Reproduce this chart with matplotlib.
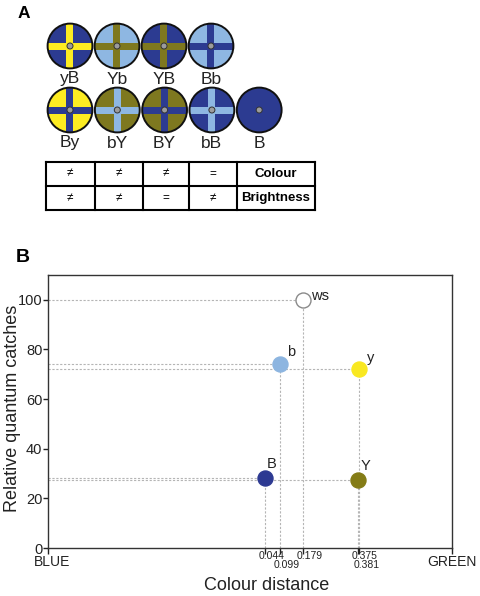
import numpy as np
import matplotlib.pyplot as plt
from matplotlib.patches import Circle, Rectangle

plt.rcParams['font.family'] = ['Liberation Sans', 'DejaVu Sans']

# panel A stimuli: first letter = cross colour, second = background colour
row1 = ['yB', 'Yb', 'YB', 'Bb']
row2 = ['By', 'bY', 'BY', 'bB', 'B']
palette = {'y': '#fdec22', 'Y': '#7e781f', 'b': '#8eb7e2', 'B': '#2c3b91'}

colour_row = ['≠', '≠', '≠', '=', 'Colour']
bright_row = ['≠', '≠', '=', '≠', 'Brightness']

# panel B
names = ['ws', 'b', 'y', 'B', 'Y']
dist = [0.179, 0.099, 0.381, 0.044, 0.375]
catch = [100, 74, 72.2, 28.2, 27.4]
fills = ['white', '#8db5e0', '#f9e821', '#2d3a92', '#847c16']
tick_vals = [0.044, 0.099, 0.179, 0.375, 0.381]
tick_level = [0, 1, 0, 0, 1]
y_ticks = [0, 20, 40, 60, 80, 100]

W, H = 481, 596
fig = plt.figure(figsize=(W / 100, H / 100), dpi=100)

# overlay in pixel coordinates for panel A
pa = fig.add_axes([0, 0, 1, 1])
pa.set_xlim(0, W)
pa.set_ylim(H, 0)
pa.axis('off')

pa.text(24, 13, 'A', fontsize=12.5, fontweight='bold', ha='center', va='center')
pa.text(23, 257, 'B', fontsize=14, fontweight='bold', ha='center', va='center')

r = 22.4
arm = 7
def stimulus(cx, cy, code):
    cross = palette[code[0]]
    bg = palette[code[-1]]
    base = Circle((cx, cy), r, facecolor=bg, edgecolor='none')
    pa.add_patch(base)
    if len(code) == 2:
        for rect in (Rectangle((cx - arm / 2, cy - r), arm, 2 * r),
                     Rectangle((cx - r, cy - arm / 2), 2 * r, arm)):
            rect.set_facecolor(cross)
            rect.set_edgecolor('none')
            pa.add_patch(rect)
            rect.set_clip_path(base)
    pa.add_patch(Circle((cx, cy), r, facecolor='none', edgecolor='#111111', lw=1.4))
    pa.add_patch(Circle((cx, cy), 3, facecolor='#9c9c9c', edgecolor='#333333', lw=0.7))

for i, code in enumerate(row1):
    cx = 70 + 47 * i
    stimulus(cx, 46, code)
    pa.text(cx, 79, code, fontsize=12.5, ha='center', va='center', color='#222222')
for i, code in enumerate(row2):
    cx = 70 + 47.3 * i
    stimulus(cx, 110, code)
    pa.text(cx, 143, code, fontsize=12.5, ha='center', va='center', color='#222222')

# comparison table
cols = [46, 94.7, 142.7, 189.3, 236.7, 315]
rows = [161.7, 185.7, 210]
for xv in cols:
    pa.plot([xv, xv], [rows[0], rows[-1]], color='black', lw=1.5, solid_capstyle='projecting')
for yv in rows:
    pa.plot([cols[0], cols[-1]], [yv, yv], color='black', lw=1.5, solid_capstyle='projecting')
for ri, row in enumerate([colour_row, bright_row]):
    yc = (rows[ri] + rows[ri + 1]) / 2
    for ci, val in enumerate(row):
        xc = (cols[ci] + cols[ci + 1]) / 2
        if ci == 4:
            pa.text(xc, yc, val, fontsize=9.5, fontweight='bold', ha='center', va='center')
        else:
            pa.text(xc, yc, val, fontsize=8.5, ha='center', va='center')

# panel B plot
ax = fig.add_axes([48 / W, (H - 548) / H, 404 / W, 273 / H])
xlo, xhi = -0.727, 0.711
ax.set_xlim(xlo, xhi)
ax.set_ylim(0, 110)

guide = dict(color='#b5b5b5', lw=0.8, linestyle=(0, (2, 1.5)), zorder=1)
ax.hlines(catch, xlo, dist, **guide)
ax.vlines(dist, 0, catch, **guide)

for n, xv, yv, fc in zip(names, dist, catch, fills):
    ec = '#8a8a8a' if fc == 'white' else fc
    ax.plot(xv, yv, 'o', ms=10.8, mfc=fc, mec=ec, mew=1.0, zorder=3, clip_on=False)

label_off = {'ws': (17, 4), 'b': (11, 12), 'y': (11, 11), 'B': (7, 14), 'Y': (8, 14)}
for n, xv, yv in zip(names, dist, catch):
    ax.annotate(n, (xv, yv), xytext=label_off[n], textcoords='offset pixels',
                fontsize=10.5, ha='center', va='center', color='#222222')

ax.set_yticks(y_ticks)
ax.tick_params(axis='y', direction='out', length=3.5, width=1, pad=0.5,
               labelsize=10.5, colors='#222222')
ax.set_xticks(tick_vals + [xlo, xhi])
ax.set_xticklabels([])
ax.tick_params(axis='x', direction='out', length=4, width=1, colors='#222222')

for v, lv in zip(tick_vals, tick_level):
    ax.annotate(f'{v:.3f}', (v, 0), xycoords=('data', 'axes fraction'),
                xytext=(7, -8 - 9 * lv), textcoords='offset pixels',
                fontsize=7.5, ha='center', va='center', color='#222222')

ax.annotate('BLUE', (0, 0), xycoords='axes fraction', xytext=(4, -14),
            textcoords='offset pixels', fontsize=10, ha='center', va='center', color='#222222')
ax.annotate('GREEN', (1, 0), xycoords='axes fraction', xytext=(0, -14),
            textcoords='offset pixels', fontsize=10, ha='center', va='center', color='#222222')

for s in ax.spines.values():
    s.set_color('#333333')
    s.set_linewidth(1.0)

ax.set_xlabel('Colour distance', fontsize=13, color='#222222')
ax.xaxis.set_label_coords(0.54, -0.106)
ax.set_ylabel('Relative quantum catches', fontsize=13, color='#222222')
ax.yaxis.set_label_coords(-0.068, 0.51)

fig.savefig('out.png', dpi=100)
